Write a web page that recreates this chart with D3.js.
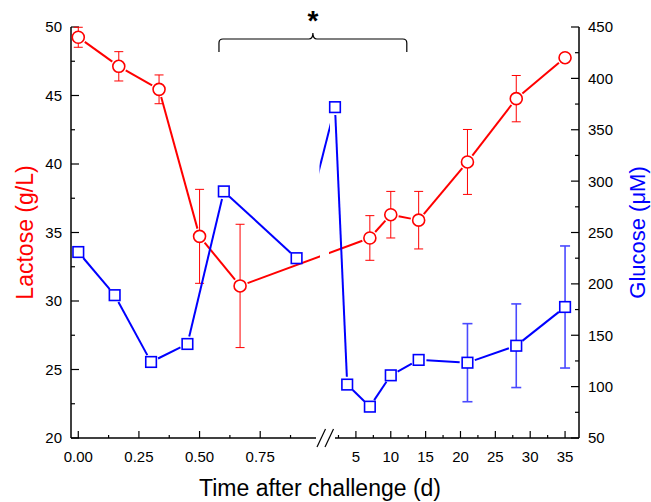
<!DOCTYPE html>
<html><head><meta charset="utf-8">
<script src="https://cdn.jsdelivr.net/npm/d3@7"></script>
<style>body{margin:0;background:#fff}svg{display:block}text{font-family:"Liberation Sans",Arial,sans-serif}</style>
</head><body><svg id="c" width="651" height="502"></svg>
<script>
// ---- data ----
const lacTime = [0, 0.167, 0.333, 0.5, 0.667, 7, 10, 14, 21, 28, 35];
const lacVal  = [49.25, 47.13, 45.45, 34.72, 31.1, 34.6, 36.3, 35.9, 40.15, 44.77, 47.76];
const lacErr  = [0.73, 1.07, 1.05, 3.43, 4.5, 1.63, 1.7, 2.1, 2.37, 1.69, 0];
const gluTime = [0, 0.15, 0.3, 0.45, 0.6, 0.9, 2, 3.75, 7, 10, 14, 21, 28, 35];
const gluVal  = [231, 189, 124, 141.5, 290, 225, 372, 102, 80.5, 111, 126, 123.3, 139.8, 177.5];
const gluErr  = [0, 0, 0, 0, 0, 0, 0, 0, 0, 0, 0, 38, 40.7, 59.4];
const xTicks1 = [0, 0.25, 0.5, 0.75];
const xMinor1 = [0.125, 0.375, 0.625, 0.875];
const xTicks2 = [5, 10, 15, 20, 25, 30, 35];
const xMinor2 = [2.5, 7.5, 12.5, 17.5, 22.5, 27.5, 32.5];
const bracketSpan = [0.58, 12.3];

const svg = d3.select("#c");
const x1 = d3.scaleLinear().domain([-0.03, 0.98]).range([71, 316]);
const x2 = d3.scaleLinear().domain([2, 37]).range([335, 579]);
const X = t => t < 1.5 ? x1(t) : x2(t);
const yL = d3.scaleLinear().domain([20, 50]).range([438, 27]);
const yR = d3.scaleLinear().domain([50, 450]).range([438, 27]);
const bc = (x1.range()[1] + x2.range()[0]) / 2;
const RED = "#ff0000", BLUE = "#0000ff";

const defs = svg.append("defs");
defs.append("clipPath").attr("id", "redClip").selectAll("rect")
  .data([[0, bc - 5.5], [bc + 3.5, 651]]).join("rect")
  .attr("x", d => d[0]).attr("width", d => d[1] - d[0]).attr("y", 0).attr("height", 502);
defs.append("clipPath").attr("id", "blueClip").append("rect")
  .attr("x", bc - 6).attr("width", 10.5).attr("y", 0).attr("height", 502);

// ---- axes ----
const ax = svg.append("g").attr("stroke", "#000").attr("stroke-width", 1.5).attr("fill", "none");
ax.append("line").attr("x1", 71).attr("x2", 71).attr("y1", yL(50)).attr("y2", yL(20));
ax.append("line").attr("x1", 579).attr("x2", 579).attr("y1", yR(450)).attr("y2", yR(50));
ax.append("line").attr("x1", x1.range()[0]).attr("x2", x1.range()[1]).attr("y1", 438).attr("y2", 438);
ax.append("line").attr("x1", x2.range()[0]).attr("x2", x2.range()[1]).attr("y1", 438).attr("y2", 438);
// break marks
[-4, 4].forEach(o => ax.append("line").attr("x1", bc + o - 4.5).attr("y1", 447).attr("x2", bc + o + 4).attr("y2", 429).attr("stroke-width", 1.2));

const tk = svg.append("g").attr("stroke", "#000").attr("stroke-width", 1.2);
d3.range(20, 50.1, 2.5).forEach((v, i) => tk.append("line").attr("x1", 71).attr("x2", 71 + (i % 2 ? 4 : 8)).attr("y1", yL(v)).attr("y2", yL(v)));
d3.range(50, 450.1, 25).forEach((v, i) => tk.append("line").attr("x1", 579).attr("x2", 579 - (i % 2 ? 4 : 8)).attr("y1", yR(v)).attr("y2", yR(v)));
xTicks1.forEach(v => tk.append("line").attr("x1", x1(v)).attr("x2", x1(v)).attr("y1", 438).attr("y2", 431));
xMinor1.forEach(v => tk.append("line").attr("x1", x1(v)).attr("x2", x1(v)).attr("y1", 438).attr("y2", 435));
xTicks2.forEach(v => tk.append("line").attr("x1", x2(v)).attr("x2", x2(v)).attr("y1", 438).attr("y2", 431));
xMinor2.forEach(v => tk.append("line").attr("x1", x2(v)).attr("x2", x2(v)).attr("y1", 438).attr("y2", 435));

const lab = svg.append("g").attr("font-size", 15).attr("fill", "#000");
d3.range(20, 50.1, 5).forEach(v => lab.append("text").attr("x", 62).attr("y", yL(v)).attr("dy", "0.36em").attr("text-anchor", "end").text(v));
d3.range(50, 450.1, 50).forEach(v => lab.append("text").attr("x", 588).attr("y", yR(v)).attr("dy", "0.36em").text(v));
xTicks1.forEach(v => lab.append("text").attr("x", x1(v)).attr("y", 462).attr("text-anchor", "middle").text(d3.format(".2f")(v)));
xTicks2.forEach(v => lab.append("text").attr("x", x2(v)).attr("y", 462).attr("text-anchor", "middle").text(v));

svg.append("text").attr("transform", `translate(33,${(yL(20) + yL(50)) / 2}) rotate(-90)`).attr("text-anchor", "middle")
  .attr("font-size", 23).attr("fill", RED).text("Lactose (g/L)");
svg.append("text").attr("transform", `translate(645,${(yR(50) + yR(450)) / 2}) rotate(-90)`).attr("text-anchor", "middle")
  .attr("font-size", 22).attr("fill", BLUE).text("Glucose (\u03bcM)");
svg.append("text").attr("x", 320).attr("y", 496).attr("text-anchor", "middle").attr("font-size", 23).attr("fill", "#000")
  .text("Time after challenge (d)");

// ---- bracket ----
const bl = X(bracketSpan[0]), br = X(bracketSpan[1]), bm = (bl + br) / 2, by = 39;
svg.append("path").attr("fill", "none").attr("stroke", "#000").attr("stroke-width", 1.2)
  .attr("d", `M${bl},${by + 13} L${bl},${by + 4} Q${bl},${by} ${bl + 4},${by} L${bm - 4},${by} Q${bm},${by} ${bm},${by - 6} Q${bm},${by} ${bm + 4},${by} L${br - 4},${by} Q${br},${by} ${br},${by + 4} L${br},${by + 13}`);
svg.append("text").attr("x", bm).attr("y", 30).attr("text-anchor", "middle").attr("font-size", 28).attr("font-weight", "bold").text("*");

// ---- series drawing ----
function series(times, vals, errs, y, color, errColor, errW, cap, gapR, crossIdx, clipId, shape) {
  const g = svg.append("g");
  const pts = times.map((t, i) => [X(t), y(vals[i])]);
  const eg = g.append("g").attr("stroke", errColor).attr("stroke-width", errW);
  times.forEach((t, i) => {
    if (!errs[i]) return;
    const xx = X(t), yt = y(vals[i] + errs[i]), yb = y(vals[i] - errs[i]);
    eg.append("line").attr("x1", xx).attr("x2", xx).attr("y1", yt).attr("y2", yb);
    eg.append("line").attr("x1", xx - cap).attr("x2", xx + cap).attr("y1", yt).attr("y2", yt);
    eg.append("line").attr("x1", xx - cap).attr("x2", xx + cap).attr("y1", yb).attr("y2", yb);
  });
  const lg = g.append("g").attr("stroke", color).attr("stroke-width", 2).attr("stroke-linecap", "butt");
  for (let i = 0; i < pts.length - 1; i++) {
    const [ax_, ay] = pts[i], [bx, by_] = pts[i + 1];
    const dx = bx - ax_, dy = by_ - ay, L = Math.hypot(dx, dy);
    if (L < 2 * gapR) continue;
    const ux = dx / L, uy = dy / L;
    const ln = lg.append("line").attr("x1", ax_ + ux * gapR).attr("y1", ay + uy * gapR)
      .attr("x2", bx - ux * gapR).attr("y2", by_ - uy * gapR);
    if (i === crossIdx) ln.attr("clip-path", `url(#${clipId})`);
  }
  const mg = g.append("g").attr("stroke", color).attr("stroke-width", 1.6).attr("fill", "#fff");
  pts.forEach(p => {
    if (shape === "circle") mg.append("circle").attr("cx", p[0]).attr("cy", p[1]).attr("r", 6);
    else mg.append("rect").attr("x", p[0] - 5.3).attr("y", p[1] - 5.3).attr("width", 10.6).attr("height", 10.6);
  });
}
series(lacTime, lacVal, lacErr, yL, RED, RED, 1, 4.5, 8, 4, "redClip", "circle");
series(gluTime, gluVal, gluErr, yR, BLUE, "#4a4aff", 1.6, 5, 7.8, 5, "blueClip", "rect");
</script></body></html>
